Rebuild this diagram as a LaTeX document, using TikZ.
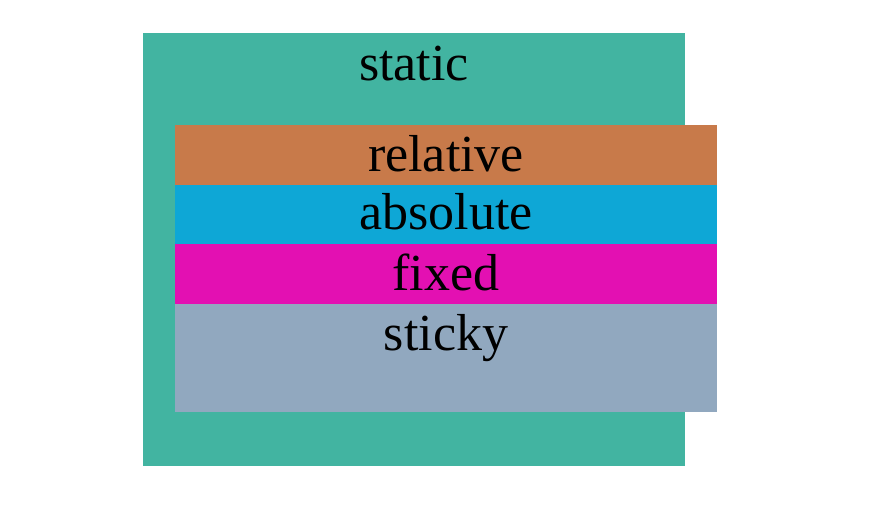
\documentclass[tikz,border=0pt]{standalone}
\usepackage{fontspec}
\setmainfont{Liberation Serif}
\definecolor{cstatic}{RGB}{66,180,161}
\definecolor{crel}{RGB}{200,122,74}
\definecolor{cabs}{RGB}{14,167,214}
\definecolor{cfix}{RGB}{227,16,178}
\definecolor{cstick}{RGB}{145,168,191}
\begin{document}
\begin{tikzpicture}[x=1pt,y=-1pt,
  lbl/.style={anchor=base,font=\fontsize{52}{62}\selectfont,text=black,inner sep=0pt}]
\useasboundingbox (0,0) rectangle (880,527);
\fill[cstatic] (143,33) rectangle (685,466);
\fill[crel] (175,125) rectangle (717,184.5);
\fill[cabs] (175,184.5) rectangle (717,244);
\fill[cfix] (175,244) rectangle (717,304);
\fill[cstick] (175,304) rectangle (717,412);
\node[lbl] (tstatic) at (414,80) {static};
\node[lbl] (trel) at (446,171) {relative};
\node[lbl] (tabs) at (446,229.5) {absolute};
\node[lbl] (tfix) at (446,290) {fixed};
\node[lbl] (tstick) at (446,350) {sticky};
\end{tikzpicture}
\end{document}
